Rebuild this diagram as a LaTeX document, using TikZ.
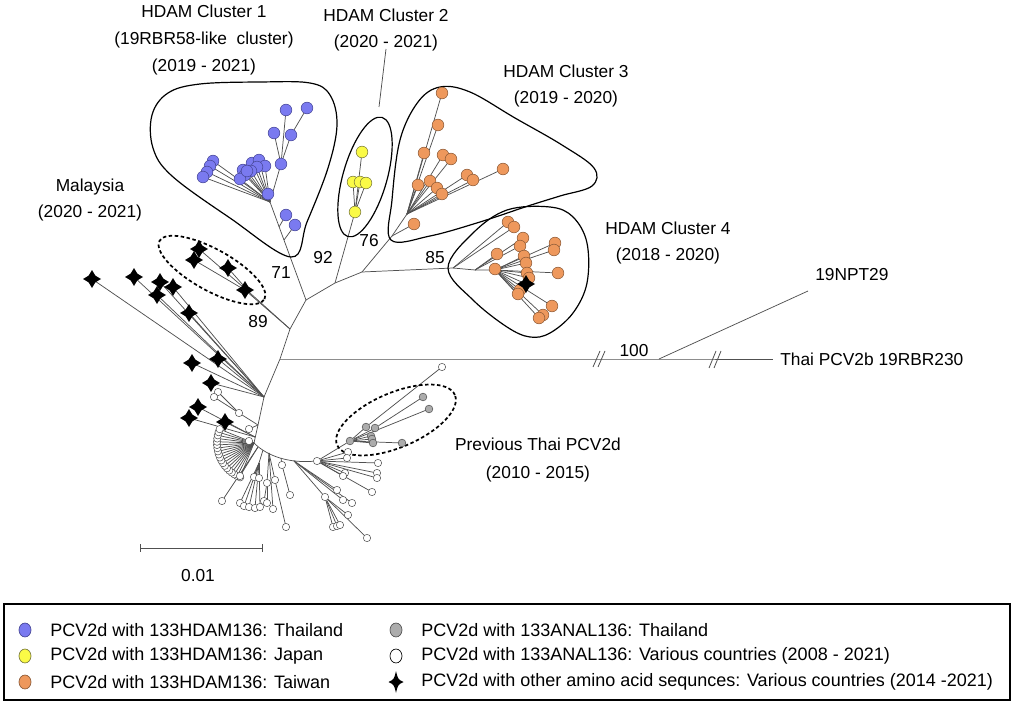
\documentclass[tikz,border=0pt]{standalone}
\usepackage{fontspec}
\setmainfont{Liberation Sans}
\usetikzlibrary{shapes.geometric}
\pgfdeclarelayer{bg}
\pgfsetlayers{bg,main}
\definecolor{bfill}{RGB}{122,122,240}
\definecolor{bdraw}{RGB}{70,70,150}
\definecolor{yfill}{RGB}{250,250,70}
\definecolor{ydraw}{RGB}{120,120,60}
\definecolor{ofill}{RGB}{238,152,92}
\definecolor{odraw}{RGB}{140,90,55}
\definecolor{gfill}{RGB}{172,172,172}
\definecolor{wdraw}{RGB}{80,80,80}
\definecolor{brc}{RGB}{80,80,80}
\tikzset{
 br/.style={draw=brc,line width=0.55pt},
 clus/.style={draw=black,line width=0.9pt},
 dsh/.style={draw=black,line width=1.3pt,dash pattern=on 2.6pt off 1.9pt},
 cb/.style={circle,inner sep=0pt,minimum size=8.8pt,line width=0.4pt},
 bc/.style={cb,fill=bfill,draw=bdraw},
 yc/.style={cb,fill=yfill,draw=ydraw},
 oc/.style={cb,fill=ofill,draw=odraw},
 gc/.style={circle,inner sep=0pt,minimum size=5.8pt,line width=0.4pt,fill=gfill,draw=wdraw},
 wc/.style={circle,inner sep=0pt,minimum size=5.5pt,line width=0.4pt,fill=white,draw=wdraw},
 stn/.style={star,star points=4,star point ratio=1.9,inner sep=0pt,minimum size=13.5pt,fill=black,draw=none},
 lab/.style={font=\fontsize{13}{20}\selectfont,inner sep=0pt,align=center},
 leg/.style={font=\fontsize{13.5}{16}\selectfont,inner sep=0pt,anchor=west},
 legm/.style={ellipse,inner sep=0pt,minimum width=9pt,minimum height=10.5pt,line width=0.5pt},
 lstar/.pic={\fill[black] (0,-11) .. controls (2,-2.6) .. (7.5,0) .. controls (2,2.6) .. (0,11) .. controls (-2,2.6) .. (-7.5,0) .. controls (-2,-2.6) .. (0,-11) -- cycle;}
}
\newcommand\tipfan[4]{%
 \foreach \p [count=\i] in {#4} {\node[#2] (#3\i) at \p {};
 \begin{pgfonlayer}{bg}\draw[br] (#1) -- (#3\i.center);\end{pgfonlayer}}}
\begin{document}
\begin{tikzpicture}[x=0.75pt,y=-0.75pt]
\useasboundingbox (0,0) rectangle (1014,706);
% internal points
\coordinate (M) at (290,329);
\coordinate (A) at (306,300);
\coordinate (C1) at (270,202);
\coordinate (C1s1) at (279,227);
\coordinate (C1s2) at (284,240);
\coordinate (B) at (335,283);
\coordinate (N85) at (362,272);
\coordinate (C3b) at (392,236);
\coordinate (C3) at (407,214);
\coordinate (N4a) at (453,268);
\coordinate (N4b) at (475,270);
\coordinate (N4c) at (495,270);
\coordinate (H) at (280,359);
\coordinate (X) at (659,359);
\coordinate (TE) at (773,359);
\coordinate (NPT) at (808,291);
\coordinate (D) at (264,397);
\coordinate (D2) at (258,425);
\coordinate (E) at (254,443);
\coordinate (Ep) at (255,437);
\coordinate (Mn) at (250,293);
\coordinate (F1) at (258,447);
\coordinate (F2a) at (263,450);
\coordinate (F2) at (259,463);
\coordinate (F3) at (269,453);
\coordinate (F4) at (281,458);
\coordinate (Rb) at (294,461);
\node[wc] (P) at (317,461) {};
\node[gc] (Q) at (350,441) {};
\node[wc] (R) at (325,497) {};
% skeleton
\begin{pgfonlayer}{bg}
\draw[br] (C1) -- (A) -- (M) -- (H) -- (D) -- (D2) -- (E);
\draw[br] (A) -- (B) -- (N85) -- (N4a) -- (N4b) -- (N4c);
\draw[br] (N85) -- (C3b) -- (C3);
\draw[br] (H) -- (X) -- (TE);
\draw[br] (X) -- (NPT);
\draw[br] (M) -- (Mn);
\draw[br] (E) .. controls (268,457) and (290,463) .. (P);
\draw[br] (F2a) -- (F2);
\draw[br] (Rb) -- (R);
\draw[br] (P) -- (Q);
\end{pgfonlayer}
% break marks
\coordinate (k1a) at (593,367); \coordinate (k1b) at (600,351);
\coordinate (k1c) at (598,367); \coordinate (k1d) at (605,351);
\coordinate (k2a) at (709,368); \coordinate (k2b) at (716,351);
\coordinate (k2c) at (714,368); \coordinate (k2d) at (721,351);
\draw[br,line width=0.6pt] (k1a) -- (k1b) (k1c) -- (k1d) (k2a) -- (k2b) (k2c) -- (k2d);
% cluster outlines
\draw[clus] plot[smooth cycle,tension=0.6] coordinates {(291,257) (230,218) (172,176) (153,148) (152,115) (168,93) (200,84) (260,82) (310,83) (330,95) (337,125) (328,168) (307,222)};
\draw[clus,rotate around={74:(365,177)}] (365,177) ellipse [x radius=46.5pt, y radius=16.5pt];
\draw[clus] plot[smooth cycle,tension=0.6] coordinates {(391,240) (392,200) (400,140) (418,102) (440,87) (470,92) (515,118) (562,145) (594,168) (592,186) (560,196) (528,206) (480,222) (430,236)};
\draw[clus] plot[smooth cycle,tension=0.6] coordinates {(448,268) (473,233) (507,210) (550,207) (573,217) (587,243) (587,283) (573,313) (550,333) (530,337) (507,327) (473,300)};
\draw[dsh,rotate around={-29:(212,270)}] (212,270) ellipse [x radius=45pt, y radius=15.5pt];
\draw[dsh,rotate around={23:(396,420)}] (396,420) ellipse [x radius=48pt, y radius=20.5pt];
% cluster 1
\tipfan{C1}{bc}{bl}{(213,161),(210,166),(207,172),(203,177)}
\tipfan{C1}{bc}{bm}{(243,170),(252,163),(259,160),(265,166),(257,167),(251,171),(245,175),(240,179),(247,171)}
\tipfan{C1}{bc}{bu}{(281,164)}
\tipfan{bu1}{bc}{bv}{(286,110),(274,133),(291,135)}
\tipfan{bv3}{bc}{bw}{(307,108)}
\tipfan{C1}{bc}{bx}{(268,194)}
\tipfan{C1s1}{bc}{by}{(286,215)}
\tipfan{C1s2}{bc}{bz}{(295,225)}
% cluster 2
\tipfan{B}{yc}{ya}{(355,212)}
\tipfan{ya1}{yc}{yb}{(353,182),(360,182),(366,183),(362,152)}
% cluster 3
\tipfan{C3}{oc}{o3a}{(442,93),(418,185),(424,153),(438,125)}
\tipfan{C3}{oc}{o3c}{(443,155),(451,159),(430,181),(437,188),(442,194),(467,175),(473,180),(503,169)}
\tipfan{C3b}{oc}{o3d}{(414,224)}
% cluster 4
\tipfan{N4a}{oc}{o4a}{(508,222),(514,227)}
\tipfan{N4b}{oc}{o4b}{(497,254),(523,238),(520,246)}
\tipfan{N4c}{oc}{o4c}{(495,269),(555,243),(554,250),(524,256),(526,263),(527,273),(529,278),(558,273),(520,290),(518,294),(552,306),(543,315),(539,318)}
\tipfan{N4c}{stn}{s4}{(526,284)}
% Malaysia and other diamonds
\tipfan{M}{stn}{sm}{(245,290)}
\tipfan{Mn}{stn}{sn}{(199,249),(194,260),(228,268)}
\tipfan{D}{stn}{sd}{(92,279),(134,277),(160,282),(173,287),(157,295),(189,313),(218,359),(192,363),(211,383)}
\tipfan{Ep}{stn}{se}{(198,407),(189,418),(225,422)}
% white circles near trunk
\tipfan{D2}{wc}{wd}{(239,413),(249,429)}
\tipfan{wd1}{wc}{we}{(218,392),(214,397)}
\foreach \a [count=\i] in {112,117,...,202} {\node[wc] (arc\i) at ([shift={(\a:37)}]E) {};
 \begin{pgfonlayer}{bg}\draw[br] (E) -- (arc\i.center);\end{pgfonlayer}}
\node[wc] (ec) at (249,441) {};
% lower subtrees
\tipfan{F1}{wc}{wf}{(240,476),(222,501)}
\tipfan{F2}{wc}{wg}{(254,477),(259,478),(240,503),(244,506),(249,507),(255,508),(260,507)}
\tipfan{F3}{wc}{wh}{(267,483),(273,509)}
\tipfan{wh1}{wc}{wi}{(264,501),(267,503)}
\tipfan{F3}{wc}{wj}{(275,480)}
\tipfan{wj1}{wc}{wk}{(286,527)}
\tipfan{F4}{wc}{wl}{(282,465)}
\tipfan{wl1}{wc}{wm}{(290,495)}
\tipfan{P}{wc}{wp}{(348,452),(347,458),(378,463),(377,473),(377,478),(372,492),(345,473),(343,476)}
\tipfan{Q}{gc}{gq}{(366,427),(375,428),(371,436),(372,439),(373,443),(402,443),(429,409)}
\tipfan{gq2}{gc}{gr}{(423,397)}
\tipfan{gq1}{wc}{wq}{(442,367)}
\tipfan{R}{wc}{wr}{(333,527),(337,526),(340,525),(348,515),(367,538)}
\tipfan{Rb}{wc}{ws}{(337,490),(343,500),(352,503)}
% labels
\node[lab] (t1) at (204,40) {HDAM Cluster 1\\(19RBR58-like\ \ cluster)\\(2019 - 2021)};
\node[lab] (t2) at (386,30) {HDAM Cluster 2\\(2020 - 2021)};
\coordinate (h2a) at (386,49); \coordinate (h2b) at (379,107);
\draw[br,draw=black!70] (h2a) -- (h2b);
\node[lab] (t3) at (566,86) {HDAM Cluster 3\\(2019 - 2020)};
\node[lab] (t4) at (90,200) {Malaysia\\(2020 - 2021)};
\node[lab] (t5) at (668,243) {HDAM Cluster 4\\(2018 - 2020)};
\node[lab,font=\fontsize{13}{21.5}\selectfont] (t6) at (538,460) {Previous Thai PCV2d\\(2010 - 2015)};
\node[lab,anchor=west] (t7) at (815,275) {19NPT29};
\node[lab,anchor=west] (t8) at (780,359) {Thai PCV2b 19RBR230};
\node[lab] (n71) at (281,273) {71};
\node[lab] (n92) at (323,258) {92};
\node[lab] (n76) at (369,241) {76};
\node[lab] (n85) at (435,258) {85};
\node[lab] (n89) at (258,322) {89};
\node[lab] (n100) at (634,351) {100};
% scale bar
\coordinate (sb1) at (140,548); \coordinate (sb2) at (262,548);
\draw[br] (sb1) -- (sb2);
\draw[br] ([yshift=3pt]sb1) -- ([yshift=-3pt]sb1) ([yshift=3pt]sb2) -- ([yshift=-3pt]sb2);
\node[lab] (sbl) at (198,576) {0.01};
% legend
\draw[line width=1pt] (4,604) rectangle (1010,700);
\node[legm,fill=bfill,draw=bdraw] (m1) at (25,630) {};
\node[legm,fill=yfill,draw=ydraw] (m2) at (25,656) {};
\node[legm,fill=ofill,draw=odraw] (m3) at (25,682) {};
\node[legm,fill=gfill,draw=wdraw] (m4) at (396,630) {};
\node[legm,fill=white,draw=black] (m5) at (396,656) {};
\pic at (396,682) {lstar};
\node[leg] (l1) at (50,630) {PCV2d with 133HDAM136: Thailand};
\node[leg] (l2) at (50,656) {PCV2d with 133HDAM136: Japan};
\node[leg] (l3) at (50,682) {PCV2d with 133HDAM136: Taiwan};
\node[leg] (l4) at (421,630) {PCV2d with 133ANAL136: Thailand};
\node[leg] (l5) at (421,656) {PCV2d with 133ANAL136: Various countries (2008 - 2021)};
\node[leg] (l6) at (421,682) {PCV2d with other amino acid sequnces: Various countries (2014 -2021)};
\end{tikzpicture}
\end{document}
